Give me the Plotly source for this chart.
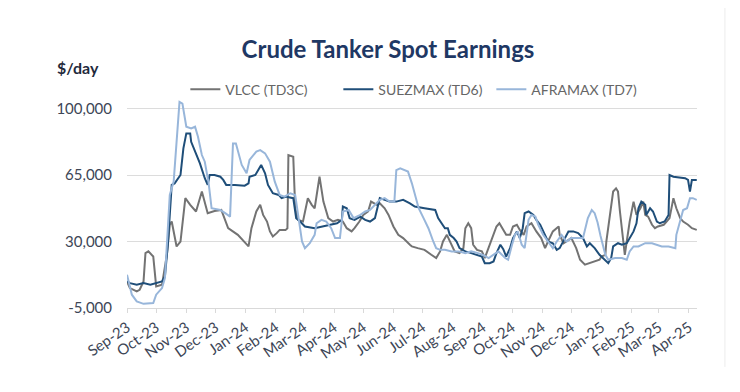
import pandas as pd
import plotly.graph_objects as go

START = "2023-09-01"

vlcc_day = [0, 3, 10, 13, 17, 19, 22, 27, 30, 36, 41, 44, 46, 51, 55, 60, 65, 71, 77, 83,
            90, 97, 104, 109, 114, 125, 128, 133, 137, 140, 144, 147, 150, 154, 157, 163, 165,
            166, 171, 173, 176, 181, 186, 190, 193, 198, 202, 207, 212, 217, 222, 226, 231, 234,
            239, 243, 248, 251, 257, 260, 265, 269, 274, 279, 284, 291, 293, 299, 306, 313, 318,
            322, 325, 329, 332, 337, 342, 346, 348, 351, 354, 356, 360, 365, 368, 373, 377, 380,
            383, 387, 390, 394, 397, 401, 404, 408, 411, 416, 421, 426, 430, 433, 438, 444, 445,
            449, 452, 457, 462, 466, 471, 476, 481, 486, 488, 492, 493, 497, 500, 503, 505, 507,
            510, 512, 514, 517, 521, 524, 528, 531, 533, 536, 540, 543, 546, 552, 555, 558, 562,
            565, 569, 572, 577, 581, 586]
vlcc_usd = [9000, 5500, 3700, 4600, 9000, 23900, 24800, 22100, 6400, 7300, 23000, 38800, 40500,
            27400, 30000, 52800, 49300, 45800, 56300, 44900,
            46000, 46600, 37000, 35300, 33500, 27400, 37000, 45800, 49300, 44000, 40500, 35300,
            32600, 34400, 36100, 36000, 37000,
            75500, 74600, 47500, 41400, 40500, 52800, 49300, 47500, 64100, 51000, 42300, 40500,
            41400, 40500, 37000, 35300, 37000,
            40500, 44000, 45800, 51000, 49300, 50100, 47500, 44000, 37900, 33500, 31800, 28300,
            27400, 26500, 25600, 23000, 21300,
            24800, 30000, 33500, 30000, 24800, 23900, 26500, 37000, 39600, 37000, 28300, 25600,
            24800, 21300, 28300, 33500, 37900,
            39600, 36000, 33500, 33500, 37900, 38800, 36100, 33500, 37900, 39600, 35300, 31800,
            26500, 30000, 35300, 37900, 33500,
            29100, 30000, 31800, 26500, 20400, 17800, 18600, 19500, 20400, 22100, 23000, 30000,
            44000, 56300, 58000, 56300, 45800,
            30000, 23000, 30000, 40500, 51000, 44000, 47500, 51000, 44000, 43100, 38800, 37000,
            37900, 38800, 40500, 42300, 52800,
            47500, 42300, 40500, 38800, 37000, 36100]

suez_day = [0, 3, 10, 17, 24, 30, 36, 39, 42, 46, 49, 55, 58, 61, 65, 66, 70, 75, 80, 83, 85,
            90, 96, 99, 102, 111, 121, 125, 126, 132, 135, 138, 142, 145, 150, 156, 159, 164,
            171, 174, 178, 183, 193, 202, 209, 216, 221, 222, 226, 229, 234, 240, 245, 250, 255,
            260, 265, 270, 277, 284, 291, 296, 306, 317, 320, 324, 327, 330, 332, 336, 339, 342,
            348, 354, 361, 365, 368, 373, 377, 380, 384, 387, 390, 394, 397, 401, 404, 407, 409,
            413, 418, 421, 425, 428, 433, 438, 442, 445, 450, 454, 459, 464, 469, 473, 476, 481,
            486, 492, 495, 498, 500, 505, 509, 514, 517, 521, 524, 526, 529, 533, 534, 538, 541,
            545, 548, 553, 557, 558, 562, 570, 574, 577, 579, 581, 586]
suez_usd = [9000, 8100, 7300, 8100, 7300, 8100, 9000, 11600, 28300, 59800, 60600, 65000, 79000,
            86900, 86900, 82500, 77300, 71100, 63300, 59800, 65000,
            65000, 64100, 62400, 59800, 59800, 59400, 60600, 64100, 65000, 67600, 70300, 65900,
            59800, 55400, 54500, 52800, 53600,
            52800, 42300, 40500, 37900, 37000, 37900, 38800, 39600, 41400, 48400, 47500, 42300,
            41400, 43100, 41400, 40500, 42300,
            52800, 51900, 51000, 51000, 51900, 50100, 48400, 47500, 46600, 42300, 39600, 37000,
            37000, 33500, 31800, 30000, 26500,
            24800, 23900, 23000, 22100, 18600, 18600, 19500, 23900, 28300, 26000, 22100, 26500,
            31800, 35300, 31800, 37000, 44900,
            45800, 44000, 41400, 38800, 35300, 30000, 29100, 25600, 26500, 31800, 35300, 35300,
            34400, 31800, 27400, 29100, 26500,
            23000, 20400, 18600, 21300, 27400, 29100, 28300, 29100, 31800, 35300, 39600, 47500,
            51000, 49300, 44000, 47500, 45800,
            40500, 39600, 40500, 44000, 65000, 64100, 63600, 63300, 62400, 56300, 62400, 62400]

afra_day = [0, 5, 10, 17, 27, 30, 36, 39, 42, 44, 48, 51, 54, 57, 60, 61, 66, 70, 73, 77, 80,
            84, 87, 96, 101, 106, 109, 112, 118, 123, 126, 133, 137, 142, 147, 152, 157, 162,
            168, 173, 176, 180, 183, 188, 193, 195, 200, 205, 210, 214, 219, 222, 228, 233, 240,
            245, 250, 255, 260, 265, 270, 275, 277, 281, 286, 289, 293, 296, 300, 305, 310, 315,
            318, 322, 327, 334, 341, 348, 354, 361, 366, 372, 377, 382, 389, 392, 396, 399, 402,
            406, 409, 413, 416, 420, 423, 428, 433, 438, 442, 447, 452, 457, 464, 469, 474, 478,
            481, 484, 487, 490, 492, 495, 502, 509, 514, 517, 521, 526, 533, 540, 545, 550, 557,
            564, 565, 569, 572, 576, 579, 582, 586]
afra_usd = [12500, 2000, -1500, -2800, -2400, 2000, 5500, 10800, 37000, 54500, 61500, 80800,
            103500, 102600, 92100, 90400, 89500, 90400, 85100, 75500, 72000,
            60600, 47500, 46600, 44900, 43100, 81600, 81600, 70300, 65900, 72900, 77300, 78100,
            76400, 72000, 61500, 54500, 53600,
            55400, 54500, 44000, 30000, 26500, 29100, 33500, 39600, 41400, 40500, 37000, 31800,
            31800, 45800, 46600, 42300, 44000,
            45800, 46600, 49300, 51900, 52800, 51000, 51000, 67600, 68500, 67600, 66800, 60600,
            54500, 47500, 42300, 37000, 30000,
            26500, 25600, 25600, 24800, 24800, 23900, 24800, 23900, 23000, 21300, 23000, 24800,
            21300, 20400, 28300, 33500, 35300,
            28300, 26500, 41400, 44000, 43100, 38800, 33500, 30000, 26500, 30000, 33500, 30000,
            31800, 31800, 31800, 42300, 46600,
            44900, 40000, 33000, 27000, 23000, 20400, 21300, 21300, 20400, 24800, 27400, 27400,
            29100, 29100, 28300, 27400, 27400,
            26500, 33500, 40500, 46600, 47500, 52800, 52800, 51900]

series_names = ["VLCC (TD3C)", "SUEZMAX (TD6)", "AFRAMAX (TD7)"]
series_colors = ["#737373", "#1f4e79", "#98b6da"]
y_ticks = [-5000, 30000, 65000, 100000]
y_tick_text = ["-5,000", "30,000", "65,000", "100,000"]


def to_dates(days):
    return pd.Timestamp(START) + pd.to_timedelta(days, unit="D")


fig = go.Figure()
for name, color, days, vals in zip(series_names, series_colors,
                                   [vlcc_day, suez_day, afra_day],
                                   [vlcc_usd, suez_usd, afra_usd]):
    fig.add_trace(go.Scatter(x=to_dates(days), y=vals, mode="lines", name=name,
                             line=dict(color=color, width=2)))

FONT = "Lato, 'Open Sans', sans-serif"
W, H = 732, 384

fig.update_layout(
    width=W, height=H,
    margin=dict(l=119, r=43, t=91, b=84),
    paper_bgcolor="white", plot_bgcolor="white",
    font=dict(family=FONT, color="#3d4656"),
    title=dict(text="<b>Crude Tanker Spot Earnings</b>", x=380 / W, xanchor="center",
               y=1 - 42 / H, yanchor="middle", yref="container",
               font=dict(size=24, color="#1f3864", family=FONT)),
    legend=dict(orientation="h", x=0.505, xanchor="center", y=1.045, yanchor="middle",
                font=dict(size=14, color="#666666"), bgcolor="rgba(0,0,0,0)",
                itemwidth=30, tracegroupgap=0, entrywidth=108, entrywidthmode="pixels"),
    showlegend=True,
)

fig.update_xaxes(
    type="date",
    range=["2023-09-01", "2025-04-09 06:00"],
    tick0="2023-09-01", dtick="M1", tickformat="%b-%y",
    tickangle=-35, tickfont=dict(size=15, color="#3d4656"),
    showgrid=False, showline=True, linecolor="#d9d9d9", linewidth=1,
    ticks="outside", ticklen=4, tickcolor="#d9d9d9",
    zeroline=False,
)
fig.update_yaxes(
    range=[-5000, 105000],
    tickvals=y_ticks, ticktext=y_tick_text,
    tickfont=dict(size=15, color="#3d4656"),
    showgrid=True, gridcolor="#dcdcdc", gridwidth=1,
    zeroline=False, showline=False, ticks="", ticklabelstandoff=14,
)

fig.add_annotation(text="<b>$/day</b>", xref="paper", yref="paper",
                   x=-0.086, y=1.153, xanchor="center", yanchor="middle",
                   showarrow=False, font=dict(size=16, color="#1f2a3c", family=FONT))

fig.add_shape(type="line", xref="paper", yref="paper",
              x0=1.049, x1=1.049, y0=-0.282, y1=1.474,
              line=dict(color="#ececec", width=1))

fig.write_html("out.html")
